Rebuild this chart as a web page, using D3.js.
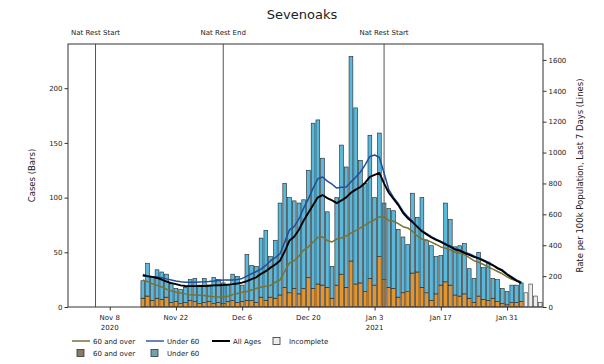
<!DOCTYPE html>
<html><head><meta charset="utf-8">
<script src="https://cdn.jsdelivr.net/npm/d3@7"></script>
<style>body{margin:0;background:#fff}svg{display:block}text{font-family:"DejaVu Sans",sans-serif;fill:#222}</style>
</head><body><svg id="c" width="604" height="364"></svg>
<script>
// ---- data ----
const startDate = "2020-11-15";
const over60 = [8,10,6,8,7,9,4,5,3,4,6,5,3,4,5,3,4,3,5,6,4,5,6,6,4,9,6,9,8,11,18,13,17,12,17,27,17,21,20,18,8,20,30,18,42,21,22,14,26,20,46,25,18,17,9,13,14,31,32,18,13,6,12,20,23,20,11,10,12,8,4,10,7,6,8,5,3,2,4,4,5];
const totals = [24,40,28,34,32,30,22,17,16,18,25,26,20,26,20,27,25,22,20,30,28,20,48,38,37,63,70,46,61,95,113,100,97,95,98,125,168,171,136,87,37,100,148,128,229,182,134,113,157,100,159,95,90,88,71,64,57,104,82,100,61,56,46,47,95,80,55,56,58,35,26,50,36,41,26,25,17,14,20,20,22];
const under60 = totals.map((t,i)=>t-over60[i]);
const incomplete = [13,21,10,4];
const rateAll = [207,200,195,188,178,165,155,148,140,136,135,135,136,136,138,140,141,142,145,148,152,158,168,180,192,215,232,255,275,300,360,430,455,500,560,610,660,710,725,705,690,673,690,710,740,760,777,805,842,855,868,800,740,700,660,610,575,550,520,490,470,450,435,421,405,390,372,365,350,338,325,315,300,285,270,250,235,210,190,170,155];
const rateUnder60 = [200,198,196,195,190,182,175,168,163,160,160,160,162,163,165,168,172,175,175,175,178,185,200,215,230,245,270,300,320,345,420,500,520,570,640,700,770,830,842,815,795,770,775,777,810,840,874,920,975,984,970,868,760,710,670,620,585,555,520,495,475,455,440,425,410,395,378,370,355,345,330,318,305,290,272,255,240,215,195,175,160];
const rate60 = [175,165,150,140,130,115,105,95,91,85,80,78,76,74,70,66,65,65,70,80,88,95,100,110,120,130,135,140,160,175,230,285,300,330,369,390,420,450,455,430,421,440,447,460,479,495,512,530,550,565,583,583,560,555,540,520,512,490,460,440,434,420,405,389,380,370,355,350,340,320,300,290,275,259,245,230,215,195,180,170,162];
const events = [{date:"2020-11-05",label:"Nat Rest Start"},{date:"2020-12-02",label:"Nat Rest End"},{date:"2021-01-05",label:"Nat Rest Start"}];
const xTicks = ["2020-11-08","2020-11-22","2020-12-06","2020-12-20","2021-01-03","2021-01-17","2021-01-31"];
const xTickLabels = [["Nov 8","2020"],["Nov 22"],["Dec 6"],["Dec 20"],["Jan 3","2021"],["Jan 17"],["Jan 31"]];
const leftTicks = [0,50,100,150,200];
const rightTicks = [0,200,400,600,800,1000,1200,1400,1600];

// ---- layout ----
const L=68,R=543,T=44,B=307;
const DAY=864e5;
const parse = s=>new Date(s+"T00:00:00Z");
const d0 = parse(startDate);
const dayOf = i=>new Date(d0.getTime()+i*DAY);
const x = d3.scaleUtc().domain([new Date(parse("2020-11-05").getTime()-5.82*DAY), new Date(parse("2020-11-05").getTime()+94.6*DAY)]).range([L,R]);
const yL = d3.scaleLinear().domain([0,240.4]).range([B,T]);
const yR = d3.scaleLinear().domain([0,1703]).range([B,T]);
const svg = d3.select("#c");

const cOver="#e3962f", cUnder="#5ab8db";
const bw = x(dayOf(0.4))-x(dayOf(-0.4));

// bars
const g = svg.append("g");
over60.forEach((v,i)=>{
  const cx=x(dayOf(i));
  g.append("rect").attr("x",cx-bw/2).attr("width",bw).attr("y",yL(v)).attr("height",yL(0)-yL(v))
   .attr("fill",cOver).attr("stroke","#222").attr("stroke-width",0.6);
  g.append("rect").attr("x",cx-bw/2).attr("width",bw).attr("y",yL(v+under60[i])).attr("height",yL(v)-yL(v+under60[i]))
   .attr("fill",cUnder).attr("stroke","#222").attr("stroke-width",0.6);
});
incomplete.forEach((v,k)=>{
  const cx=x(dayOf(over60.length+k));
  g.append("rect").attr("x",cx-bw/2).attr("width",bw).attr("y",yL(v)).attr("height",yL(0)-yL(v))
   .attr("fill","#ececec").attr("stroke","#333").attr("stroke-width",0.6);
});

// event lines
events.forEach(e=>{
  const ex=x(parse(e.date));
  svg.append("line").attr("x1",ex).attr("x2",ex).attr("y1",T).attr("y2",B).attr("stroke","#555").attr("stroke-width",1);
  svg.append("text").attr("x",ex).attr("y",35).attr("text-anchor","middle").attr("font-size",7).text(e.label);
});

// lines
const line = d3.line().x((d,i)=>x(dayOf(i))).y(d=>yR(d)).curve(d3.curveLinear);
function drawLine(data,color,w){
  svg.append("path").attr("d",line(data)).attr("fill","none").attr("stroke",color).attr("stroke-width",w).attr("stroke-linejoin","round");
}
drawLine(rate60,"#7a7232",1.5);
drawLine(rateUnder60,"#1f4f9e",1.5);
drawLine(rateAll,"#000",1.9);

// frame
svg.append("rect").attr("x",L).attr("y",T).attr("width",R-L).attr("height",B-T).attr("fill","none").attr("stroke","#333").attr("stroke-width",1);

// axes
const axL = svg.append("g").attr("transform",`translate(${L},0)`).call(d3.axisLeft(yL).tickValues(leftTicks).tickSize(3.5).tickPadding(2).tickFormat(d3.format("d")));
const axR = svg.append("g").attr("transform",`translate(${R},0)`).call(d3.axisRight(yR).tickValues(rightTicks).tickSize(3.5).tickPadding(2).tickFormat(d3.format("d")));
const axB = svg.append("g").attr("transform",`translate(0,${B})`).call(d3.axisBottom(x).tickValues(xTicks.map(parse)).tickSize(3.5).tickFormat(""));
[axL,axR,axB].forEach(a=>{a.select(".domain").remove();a.selectAll("text").attr("font-size",7).attr("fill","#333").style("font-family","DejaVu Sans");a.selectAll("line").attr("stroke","#333");});
xTicks.forEach((t,i)=>{
  const tx=x(parse(t));
  xTickLabels[i].forEach((s,k)=>{
    svg.append("text").attr("x",tx).attr("y",320+k*10).attr("text-anchor","middle").attr("font-size",7).attr("fill","#333").text(s);
  });
});

// titles
svg.append("text").attr("x",302).attr("y",19).attr("text-anchor","middle").attr("font-size",13).text("Sevenoaks");
svg.append("text").attr("transform",`translate(35,${(T+B)/2}) rotate(-90)`).attr("text-anchor","middle").attr("font-size",8.5).text("Cases (Bars)");
svg.append("text").attr("transform",`translate(583,${(T+B)/2}) rotate(-90)`).attr("text-anchor","middle").attr("font-size",8.5).text("Rate per 100k Population, Last 7 Days (Lines)");

// legend
const lg = svg.append("g").attr("font-size",7);
function legLine(x0,y0,color,w,label){
  lg.append("line").attr("x1",x0).attr("x2",x0+18).attr("y1",y0).attr("y2",y0).attr("stroke",color).attr("stroke-width",w);
  lg.append("text").attr("x",x0+21).attr("y",y0+2.5).text(label);
}
function legBox(x0,y0,fill,label){
  lg.append("rect").attr("x",x0+5).attr("y",y0-3.5).attr("width",7).attr("height",7).attr("fill",fill).attr("stroke","#333").attr("stroke-width",0.8);
  lg.append("text").attr("x",x0+21).attr("y",y0+2.5).text(label);
}
legLine(72,341,"#5f5a22",1.3,"60 and over");
legLine(146,341,"#1b3f8c",1.3,"Under 60");
legLine(212,341,"#000",2,"All Ages");
legBox(268,341,"#ececec","Incomplete");
legBox(72,353,"#8b7a66","60 and over");
legBox(146,353,"#6fa3ad","Under 60");
</script></body></html>
